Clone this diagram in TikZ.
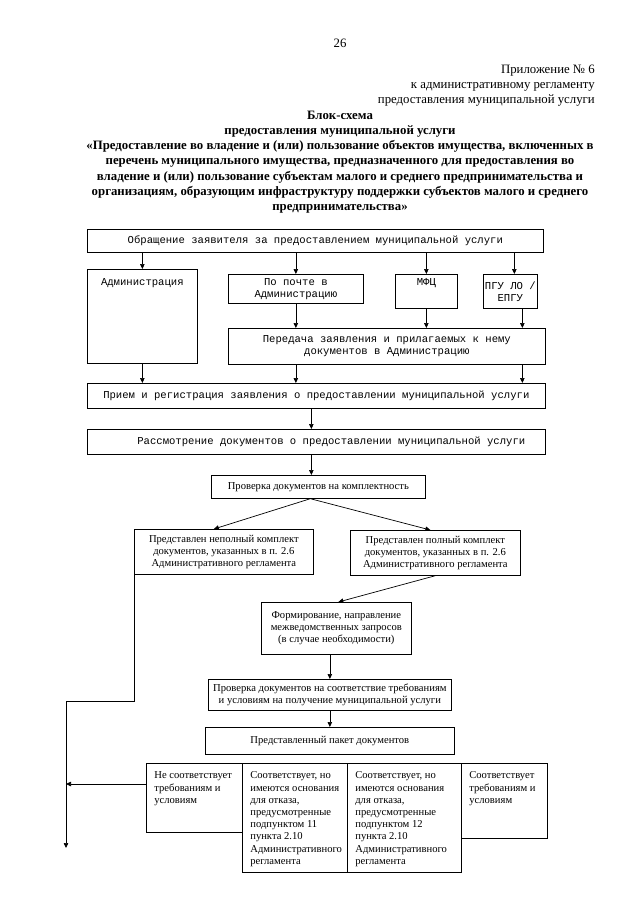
\documentclass[tikz,border=0pt]{standalone}
\usepackage{fontspec}
\setmainfont{Liberation Serif}
\setmonofont{Liberation Mono}
\usepackage{tikz}
\usetikzlibrary{arrows.meta}
\tikzset{
  ttf/.style={font=\ttfamily\fontsize{10.6}{12}\selectfont},
  rmf/.style={font=\fontsize{10.6}{12.2}\selectfont},
  blk/.style={draw, line width=0.7pt, anchor=north west, inner sep=1pt, align=center},
  cell/.style={draw, line width=0.7pt, anchor=north west, inner sep=0pt},
  arr/.style={line width=0.7pt, -{Triangle[length=5pt,width=4.5pt]}},
  ttl/.style={anchor=base, inner sep=0pt, font=\bfseries\fontsize{12.8}{15.2}\selectfont},
  hdr/.style={anchor=base east, inner sep=0pt, font=\fontsize{12.8}{15.2}\selectfont}
}
\newcommand{\celltext}[3]{\parbox[t][#1][t]{#2}{\raggedright\leftskip=8pt\relax\vspace*{8.5pt}#3}}

\begin{document}
\begin{tikzpicture}[x=1pt,y=-1pt]
		\useasboundingbox (0,0) rectangle (640,900);
		\node[hdr, anchor=base] (pnum) at (340,47.5) {26};
		\node[hdr] (app1) at (595,73.5) {Приложение № 6};
		\node[hdr] (app2) at (595,88.5) {к административному регламенту};
		\node[hdr] (app3) at (595,103.5) {предоставления муниципальной услуги};
		\node[ttl] (ttl1) at (340,119.3) {Блок-схема};
		\node[ttl] (ttl2) at (340,134.5) {предоставления муниципальной услуги};
		\node[ttl] (ttl3) at (340,149.7) {«Предоставление во владение и (или) пользование объектов имущества, включенных в};
		\node[ttl] (ttl4) at (340,164.9) {перечень муниципального имущества, предназначенного для предоставления во};
		\node[ttl] (ttl5) at (340,180.1) {владение и (или) пользование субъектам малого и среднего предпринимательства и};
		\node[ttl] (ttl6) at (340,195.3) {организациям, образующим инфраструктуру поддержки субъектов малого и среднего};
		\node[ttl] (ttl7) at (340,210.5) {предпринимательства»};

		\node[blk, ttf, minimum width=456pt, minimum height=23pt] (obr) at (87,229) {Обращение заявителя за предоставлением муниципальной услуги};
		\node[cell, ttf] (adm) at (87,269) {\parbox[t][94pt][t]{110pt}{\centering\vspace*{9pt}Администрация}};
		\node[blk, ttf, minimum width=135pt, minimum height=29pt] (post) at (228,274) {По почте в\\Администрацию};
		\node[cell, ttf] (mfc) at (395,274) {\parbox[t][34pt][t]{62pt}{\centering\vspace*{4.5pt}МФЦ}};
		\node[blk, ttf, minimum width=54pt, minimum height=34pt] (pgu) at (483,274) {ПГУ ЛО /\\ЕПГУ};
		\node[blk, ttf, minimum width=317pt, minimum height=36pt] (per) at (228,328) {Передача заявления и прилагаемых к нему\\документов в Администрацию};
		\node[blk, ttf, minimum width=458pt, minimum height=25pt] (pri) at (87,383) {Прием и регистрация заявления о предоставлении муниципальной услуги};
		\node[blk, ttf, minimum width=458pt, minimum height=25pt] (ras) at (87,429) {\hspace*{30pt}Рассмотрение документов о предоставлении муниципальной услуги};

		\node[blk, rmf, minimum width=214pt, minimum height=23pt] (chk) at (211,475) {Проверка документов на комплектность};
		\node[blk, rmf, minimum width=179pt, minimum height=45pt] (inc) at (134,529) {Представлен неполный комплект\\документов, указанных в п. 2.6\\Административного регламента};
		\node[blk, rmf, minimum width=170pt, minimum height=45pt] (full) at (350,530) {Представлен полный комплект\\документов, указанных в п. 2.6\\Административного регламента};
		\node[blk, rmf, minimum width=150pt, minimum height=52pt] (form) at (261,602) {Формирование, направление\\межведомственных запросов\\(в случае необходимости)};
		\node[blk, rmf, minimum width=243pt, minimum height=31pt] (chk2) at (208,679) {Проверка документов на соответствие требованиям\\и условиям на получение муниципальной услуги};
		\node[blk, rmf, minimum width=249pt, minimum height=27pt] (pak) at (205,727) {Представленный пакет документов};

		\node[cell, rmf] (no) at (146,763) {\celltext{69pt}{96pt}{Не соответствует\\требованиям и\\условиям}};
		\node[cell, rmf] (r11) at (242,763) {\celltext{109pt}{105pt}{Соответствует, но\\имеются основания\\для отказа,\\предусмотренные\\подпунктом 11\\пункта 2.10\\Административного\\регламента}};
		\node[cell, rmf] (r12) at (347,763) {\celltext{109pt}{114pt}{Соответствует, но\\имеются основания\\для отказа,\\предусмотренные\\подпунктом 12\\пункта 2.10\\Административного\\регламента}};
		\node[cell, rmf] (yes) at (461,763) {\celltext{75pt}{86pt}{Соответствует\\требованиям и\\условиям}};

		\coordinate (turn) at (66,701);
		\coordinate (out) at (66,848);

		\draw[arr] (adm.north |- obr.south) -- (adm.north);
		\draw[arr] (post.north |- obr.south) -- (post.north);
		\draw[arr] (mfc.north |- obr.south) -- (mfc.north);
		\draw[arr] ([xshift=4pt]pgu.north |- obr.south) -- ([xshift=4pt]pgu.north);
		\draw[arr] (post.south) -- (post.south |- per.north);
		\draw[arr] (mfc.south) -- (mfc.south |- per.north);
		\draw[arr] ([xshift=12pt]pgu.south) -- ([xshift=12pt]pgu.south |- per.north);
		\draw[arr] (adm.south) -- (adm.south |- pri.north);
		\draw[arr] (post.south |- per.south) -- (post.south |- pri.north);
		\draw[arr] ([xshift=12pt]pgu.south |- per.south) -- ([xshift=12pt]pgu.south |- pri.north);
		\draw[arr] ([xshift=-5pt]pri.south) -- ([xshift=-5pt]ras.north);
		\draw[arr] ([xshift=-7pt]chk.north |- ras.south) -- ([xshift=-7pt]chk.north);
		\draw[arr] ([xshift=-8pt]chk.south) -- ([xshift=-10pt]inc.north);
		\draw[arr] ([xshift=-8pt]chk.south) -- ([xshift=-5pt]full.north);
		\draw[arr] (full.south) -- ([xshift=2pt]form.north);
		\draw[arr] (chk2.north |- form.south) -- (chk2.north);
		\draw[arr] (chk2.south) -- (chk2.south |- pak.north);
		\draw[arr] (inc.south west) -- (inc.south west |- turn) -- (turn) -- (out);
		\draw[arr] ([yshift=-21pt]no.north west) -- ([yshift=-21pt]no.north west -| turn);
	\end{tikzpicture}
\end{document}
